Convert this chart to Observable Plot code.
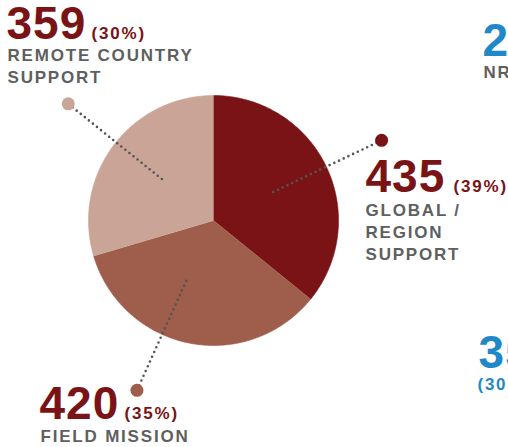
<!DOCTYPE html>
<html>
<head>
<meta charset="utf-8">
<script src="https://cdn.jsdelivr.net/npm/d3@7"></script>
<script src="https://cdn.jsdelivr.net/npm/@observablehq/plot@0.6"></script>
<style>
  html, body { margin: 0; padding: 0; background: #fff; overflow: hidden; }
</style>
</head>
<body>
<div id="chart"></div>
<script>
// ---- data ----
const categories = ["GLOBAL / REGION SUPPORT", "FIELD MISSION", "REMOTE COUNTRY SUPPORT"];
const values = [435, 420, 359];
const percents = ["(39%)", "(35%)", "(30%)"];
const labelLines = [["GLOBAL /", "REGION", "SUPPORT"], ["FIELD MISSION"], ["REMOTE COUNTRY", "SUPPORT"]];
const colors = ["#7a1315", "#9f5d4c", "#c9a497"];
// neighbouring (cropped) chart fragments
const sideTexts = ["2", "NR", "35", "(30"];

// ---- layout ----
const W = 508, H = 447;
const cx = 213, cy = 220, R = 125;
const leaderOffsetDeg = [0, 13, 2];
const numberPos = [[365, 191], [39, 418], [6, 38]];
const percentX = [453, 124, 91];
const labelPos = [[365, 215], [40, 441], [7, 60]];
const labelGap = 22;
const numColor = "#7a1315", grayText = "#5e5f61", blue = "#1e88c8";
const font = "Liberation Sans, Arial, Helvetica, sans-serif";

const pie = d3.pie().sort(null).startAngle(0).endAngle(2 * Math.PI)(values);
const pt = (a, r) => ({ x: cx + r * Math.sin(a), y: cy - r * Math.cos(a) });

const poly = [];
pie.forEach((s, i) => {
  poly.push({ cat: categories[i], ...pt(0, 0) });
  const n = Math.max(2, Math.ceil((s.endAngle - s.startAngle) / (Math.PI / 180)));
  for (let k = 0; k <= n; k++) {
    const a = s.startAngle + (s.endAngle - s.startAngle) * k / n;
    poly.push({ cat: categories[i], ...pt(a, R) });
  }
});

const leaders = pie.map((s, i) => {
  const a = (s.startAngle + s.endAngle) / 2 + leaderOffsetDeg[i] * Math.PI / 180;
  const p1 = pt(a, R * 0.53), p2 = pt(a, R * 1.49);
  return { cat: categories[i], x1: p1.x, y1: p1.y, x2: p2.x, y2: p2.y };
});

const numbers = values.map((v, i) => ({ x: numberPos[i][0], y: numberPos[i][1], text: String(v) }));
const pcts = percents.map((p, i) => ({ x: percentX[i], y: numberPos[i][1], text: p }));
const labels = labelLines.flatMap((lines, i) => lines.map((t, j) => ({ x: labelPos[i][0], y: labelPos[i][1] + j * labelGap, text: t })));

const sideBlue = [{ x: 482, y: 55, text: sideTexts[0] }, { x: 478, y: 367, text: sideTexts[2] }];
const sideGray = [{ x: 483, y: 77, text: sideTexts[1] }];
const sideBlueSmall = [{ x: 477, y: 389, text: sideTexts[3] }];

const chart = Plot.plot({
  width: W, height: H,
  margin: 0,
  x: { domain: [0, W], range: [0, W], axis: null },
  y: { domain: [0, H], range: [0, H], axis: null },
  color: { domain: categories, range: colors },
  style: { fontFamily: font, background: "#fff", overflow: "visible" },
  marks: [
    Plot.line(poly, { x: "x", y: "y", z: "cat", fill: "cat", stroke: "cat", strokeWidth: 0.6 }),
    Plot.link(leaders, { x1: "x1", y1: "y1", x2: "x2", y2: "y2", stroke: "#555", strokeWidth: 2.6, strokeDasharray: "0 5.2", strokeLinecap: "round" }),
    Plot.dot(leaders, { x: "x2", y: "y2", r: 6.5, fill: "cat", stroke: null }),
    Plot.text(numbers, { x: "x", y: "y", text: "text", textAnchor: "start", lineAnchor: "bottom", fontSize: 46, fontWeight: "bold", fill: numColor, fontFamily: font }),
    Plot.text(pcts, { x: "x", y: "y", text: "text", textAnchor: "start", lineAnchor: "bottom", fontSize: 17, fontWeight: "bold", fill: numColor, fontFamily: font }),
    Plot.text(labels, { x: "x", y: "y", text: "text", textAnchor: "start", lineAnchor: "bottom", fontSize: 17, fontWeight: "bold", fill: grayText, fontFamily: font }),
    Plot.text(sideBlue, { x: "x", y: "y", text: "text", textAnchor: "start", lineAnchor: "bottom", fontSize: 46, fontWeight: "bold", fill: blue, fontFamily: font }),
    Plot.text(sideGray, { x: "x", y: "y", text: "text", textAnchor: "start", lineAnchor: "bottom", fontSize: 16.9, fontWeight: "bold", fill: grayText, fontFamily: font }),
    Plot.text(sideBlueSmall, { x: "x", y: "y", text: "text", textAnchor: "start", lineAnchor: "bottom", fontSize: 16.9, fontWeight: "bold", fill: blue, fontFamily: font })
  ]
});

chart.querySelectorAll('g[font-size="17"], g[font-size="16.9"]').forEach(g => g.setAttribute("letter-spacing", "1.8"));
chart.querySelectorAll('g[font-size="46"]').forEach(g => g.setAttribute("letter-spacing", "1"));
document.getElementById("chart").appendChild(chart);
</script>
</body>
</html>
